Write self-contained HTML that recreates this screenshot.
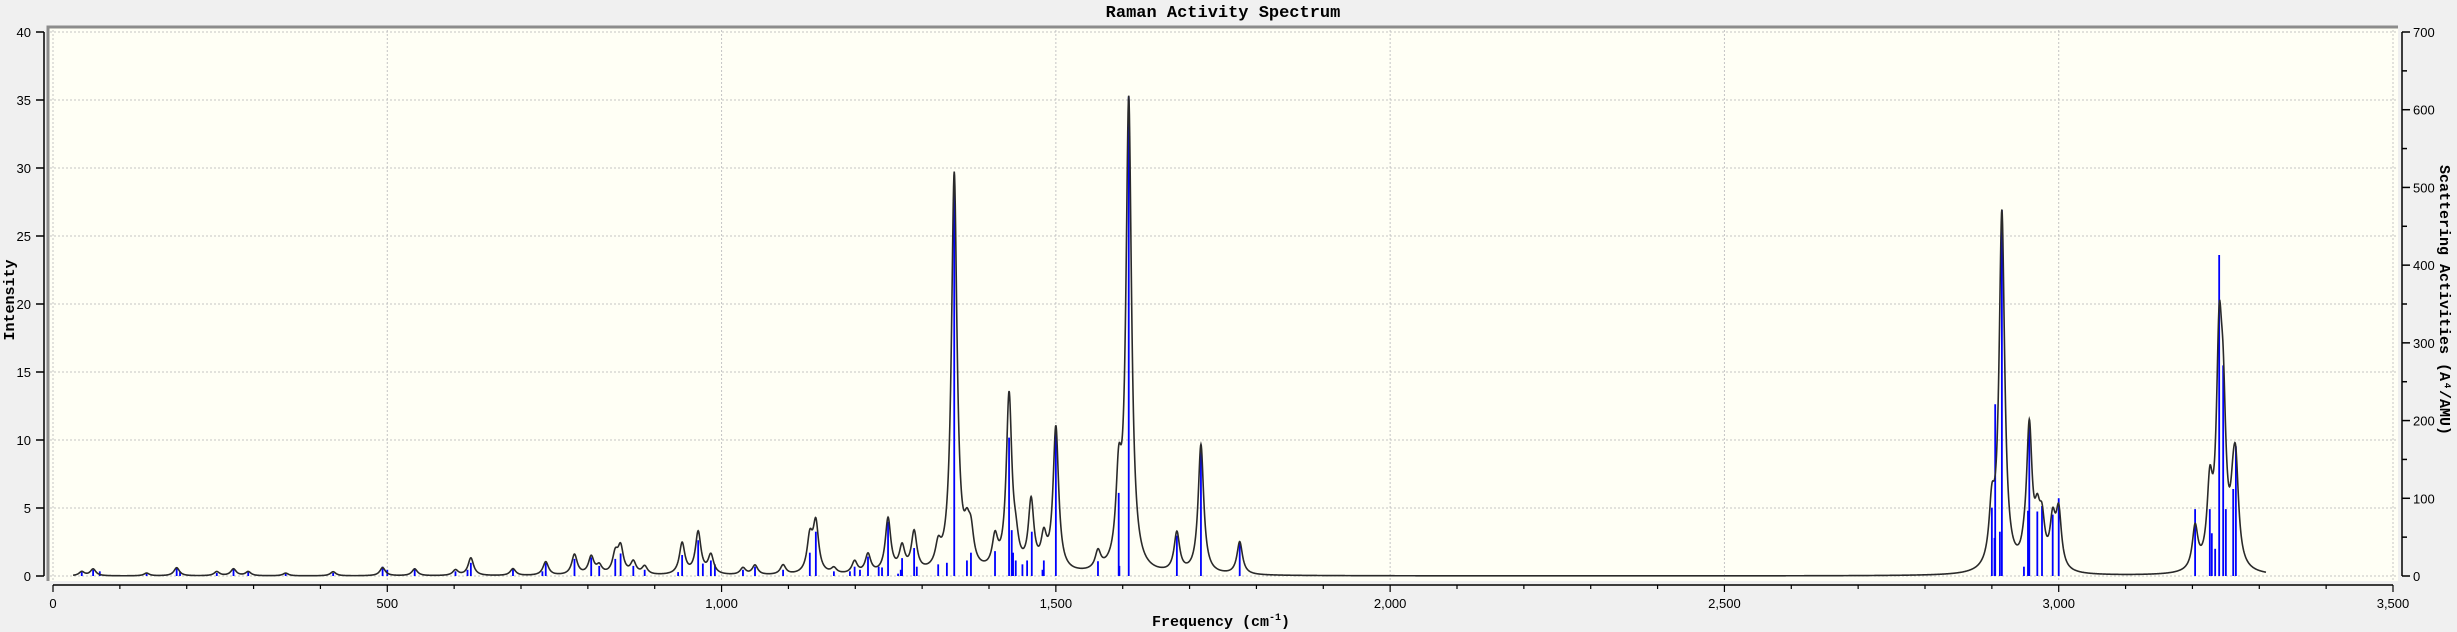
<!DOCTYPE html>
<html><head><meta charset="utf-8"><style>
html,body{margin:0;padding:0;background:#f0f0f0;}
svg{display:block;}
text{font-family:"Liberation Sans",sans-serif;}
</style></head><body>
<svg id="chart" width="2457" height="632" viewBox="0 0 2457 632">
<rect x="0" y="0" width="2457" height="632" fill="#f0f0f0"/>
<text x="1223" y="17" text-anchor="middle" style="font-family:'Liberation Mono',monospace;font-weight:bold;font-size:17px">Raman Activity Spectrum</text>
<rect x="48" y="27" width="2350" height="554" fill="#fffff5"/>
<g id="grid"></g>
<g id="sticks"></g>
<path id="curve" fill="none" stroke="#2a2a2a" stroke-width="1.6"/>
<path d="M48,581 L48,27 L2398,27" fill="none" stroke="#8c8c8c" stroke-width="3"/>
<g id="axes"></g>
<text x="1221" y="626" text-anchor="middle" style="font-family:'Liberation Mono',monospace;font-weight:bold;font-size:15px">Frequency (cm<tspan dy="-6" font-size="10">-1</tspan><tspan dy="6">)</tspan></text>
<text transform="translate(14,300) rotate(-90)" text-anchor="middle" style="font-family:'Liberation Mono',monospace;font-weight:bold;font-size:15px">Intensity</text>
<text transform="translate(2440,300) rotate(90)" text-anchor="middle" style="font-family:'Liberation Mono',monospace;font-weight:bold;font-size:15px">Scattering Activities (A⁴/AMU)</text>
</svg>
<script>
// ---- data ----
const peakFreqs = [43,60,140,185,245,270,292,348,419,493,541,602,625,688,737,780,805,817,841,849,868,885,941,965,984,1032,1050,1092,1132,1141,1168,1199,1219,1249,1270,1288,1324,1348,1367,1373,1409,1430,1440,1463,1482,1500,1563,1594,1609,1681,1717,1775,2900,2915,2948,2956,2968,2975,2991,3000,3204,3226,3240,3246,3261,3265];
const peakHeights = [0.3,0.5,0.2,0.6,0.3,0.5,0.3,0.2,0.3,0.6,0.5,0.4,1.3,0.5,1.0,1.5,1.3,0.6,1.4,1.9,0.9,0.6,2.3,3.1,1.4,0.5,0.7,0.7,2.5,3.6,0.4,0.9,1.4,4.0,1.8,2.9,1.5,29.3,2.0,2.2,2.2,12.8,1.5,5.0,2.2,10.6,1.3,6.0,34.6,2.9,9.5,2.4,4.0,26.3,0.5,10.2,3.0,3.0,3.3,4.1,3.1,5.5,15.0,9.5,3.5,6.0];
const stickFreqs = [43,60,70,140,185,190,245,270,292,348,419,493,500,541,602,620,625,688,732,737,780,805,817,841,849,868,885,935,941,965,972,984,990,1032,1050,1092,1132,1141,1168,1192,1199,1207,1219,1235,1240,1249,1264,1268,1270,1288,1292,1324,1337,1348,1367,1373,1409,1430,1434,1436,1440,1450,1457,1464,1480,1482,1500,1563,1594,1595,1609,1681,1717,1775,2900,2904,2905,2912,2915,2948,2954,2956,2968,2975,2991,3000,3204,3226,3229,3234,3240,3246,3250,3261,3265];
const stickActivities = [5,8,6,3,10,6,4,10,5,4,4,12,8,10,6,8,17,10,6,17,22,24,13,22,29,13,8,5,27,46,16,20,15,8,12,8,30,57,6,6,12,8,25,12,11,70,3,8,23,36,12,15,17,497,20,30,32,178,59,30,20,15,20,57,8,20,188,19,107,13,617,52,169,44,88,49,221,57,471,12,84,194,83,90,79,100,86,86,55,35,413,271,86,112,167];
const xTicks = [0,500,1000,1500,2000,2500,3000,3500];
const xTickLabels = ["0","500","1,000","1,500","2,000","2,500","3,000","3,500"];
const yTicks = [0,5,10,15,20,25,30,35,40];
const y2Ticks = [0,100,200,300,400,500,600,700];

// ---- scales ----
const X0=53, XS=(2393-53)/3500;
const Y0=576, YS=(576-32)/40;
function xs(f){return X0+f*XS;}
function ys(v){return Y0-v*YS;}
function ys2(a){return Y0-a*(YS*40/700);}
const NS='http://www.w3.org/2000/svg';
function mk(tag,attrs,parent){const e=document.createElementNS(NS,tag);for(const k in attrs)e.setAttribute(k,attrs[k]);parent.appendChild(e);return e;}

// grid
const grid=document.getElementById('grid');
xTicks.forEach(t=>{
  const l=mk('line',{x1:xs(t),x2:xs(t),y1:30,y2:580,stroke:'#c4c4c4','stroke-width':1,'stroke-dasharray':'2,2'},grid);
  
  
});
yTicks.forEach(t=>{
  const l=mk('line',{x1:50,x2:2396,y1:ys(t),y2:ys(t),stroke:'#c4c4c4','stroke-width':1,'stroke-dasharray':'2,2'},grid);
  
  
});

// sticks
const sg=document.getElementById('sticks');
stickFreqs.forEach((f,i)=>{
  const l=mk('line',{x1:xs(f),x2:xs(f),y1:Y0,y2:ys2(stickActivities[i]),stroke:'#0000ff','stroke-width':1.8},sg);
  
  
});

// curve (Lorentzian broadening of listed peaks)
const G=5;
let d='';
for(let f=30;f<=3310;f+=0.5){
  let v=0;
  for(let i=0;i<peakFreqs.length;i++){const u=(f-peakFreqs[i])/G;v+=peakHeights[i]/(1+u*u);}
  d+=(d?'L':'M')+xs(f).toFixed(2)+','+ys(v).toFixed(2);
}
document.getElementById('curve').setAttribute('d',d);

// axes
const ax=document.getElementById('axes');
mk('line',{x1:53,x2:2393,y1:585,y2:585,stroke:'#000','stroke-width':1.5},ax);
for(let t=0;t<=3500;t+=100){
  const major=t%500===0;
  const l=mk('line',{x1:xs(t),x2:xs(t),y1:585,y2:major?592:589,stroke:'#000','stroke-width':1.2},ax);
  
  
}
xTicks.forEach((t,i)=>{
  const tx=mk('text',{x:xs(t),y:608,'text-anchor':'middle','font-size':13},ax);
  tx.textContent=xTickLabels[i];
  
  
});
mk('line',{x1:44,x2:44,y1:32,y2:576,stroke:'#000','stroke-width':1.5},ax);
yTicks.forEach(t=>{
  mk('line',{x1:36,x2:44,y1:ys(t),y2:ys(t),stroke:'#000','stroke-width':1.5},ax);
  const tx=mk('text',{x:31,y:ys(t)+5,'text-anchor':'end','font-size':13},ax);
  tx.textContent=String(t);
  
  
});
mk('line',{x1:2402,x2:2402,y1:32,y2:576,stroke:'#000','stroke-width':1.5},ax);
for(let a=0;a<=700;a+=50){
  const l=mk('line',{x1:2402,x2:a%100===0?2410:2407,y1:ys2(a),y2:ys2(a),stroke:'#000','stroke-width':1.5},ax);
  
  
}
y2Ticks.forEach(t=>{
  const tx=mk('text',{x:2413,y:ys2(t)+5,'text-anchor':'start','font-size':13},ax);
  tx.textContent=String(t);
  
  
});
</script>
</body></html>
